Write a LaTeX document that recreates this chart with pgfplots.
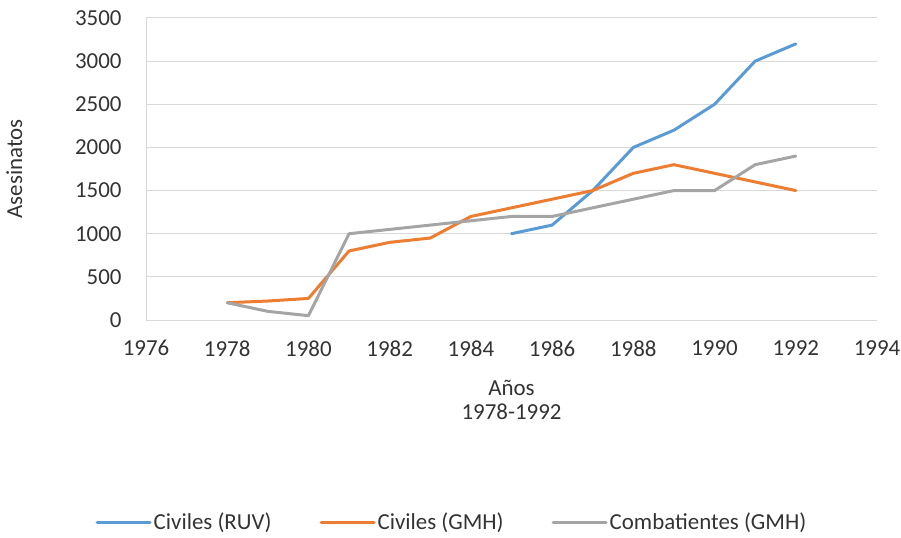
\documentclass[border=0pt]{standalone}
\usepackage{fontspec}
\setmainfont{Carlito}
\usepackage{pgfplots}
\pgfplotsset{compat=1.18}
\definecolor{cblue}{HTML}{5B9BD5}
\definecolor{corange}{HTML}{ED7D31}
\definecolor{cgray}{HTML}{A5A5A5}
\definecolor{gridc}{HTML}{D9D9D9}
\definecolor{txt}{HTML}{333333}
\begin{document}
\begin{tikzpicture}
\path[use as bounding box] (0,0) rectangle (901bp,538bp);
\begin{axis}[
  at={(146bp,218bp)}, anchor=south west,
  scale only axis, width=731bp, height=302bp,
  xmin=1976, xmax=1994, ymin=0, ymax=3500,
  xtick={1976,1978,...,1994}, ytick={0,500,...,3500},
  /pgf/number format/assume math mode=true,
  /pgf/number format/1000 sep={},
  axis lines*=left,
  axis line style={color=gridc, line width=1bp},
  ymajorgrids, grid style={color=gridc, line width=1bp},
  major tick length=0pt,
  tick label style={font=\fontsize{23}{28}\selectfont, text=txt},
  yticklabel style={xshift=-21bp},
  xticklabel style={yshift=-17bp},
  label style={font=\fontsize{23}{24}\selectfont, text=txt},
  xlabel={Años\\1978-1992}, xlabel style={align=center, yshift=-17bp},
  ylabel={Asesinatos}, ylabel style={yshift=46bp},
  legend style={at={(axis description cs:0.4186,-0.669)}, anchor=center,
    legend columns=3, draw=none, fill=none,
    font=\fontsize{23}{28}\selectfont, text=txt,
    /tikz/every even column/.append style={column sep=46bp}},
  legend image code/.code={\draw[#1, line width=3bp] (0bp,0bp) -- (53bp,0bp);},
  every axis plot/.append style={line width=3bp, line join=round, line cap=round},
]
\addplot[cblue] coordinates {(1985,1000) (1986,1100) (1987,1500) (1988,2000) (1989,2200) (1990,2500) (1991,3000) (1992,3200)};
\addlegendentry{Civiles (RUV)}
\addplot[corange] coordinates {(1978,200) (1979,220) (1980,250) (1981,800) (1982,900) (1983,950) (1984,1200) (1985,1300) (1986,1400) (1987,1500) (1988,1700) (1989,1800) (1990,1700) (1991,1600) (1992,1500)};
\addlegendentry{Civiles (GMH)}
\addplot[cgray] coordinates {(1978,200) (1979,100) (1980,50) (1981,1000) (1982,1050) (1983,1100) (1984,1150) (1985,1200) (1986,1200) (1987,1300) (1988,1400) (1989,1500) (1990,1500) (1991,1800) (1992,1900)};
\addlegendentry{Combatientes (GMH)}
\end{axis}
\end{tikzpicture}
\end{document}
